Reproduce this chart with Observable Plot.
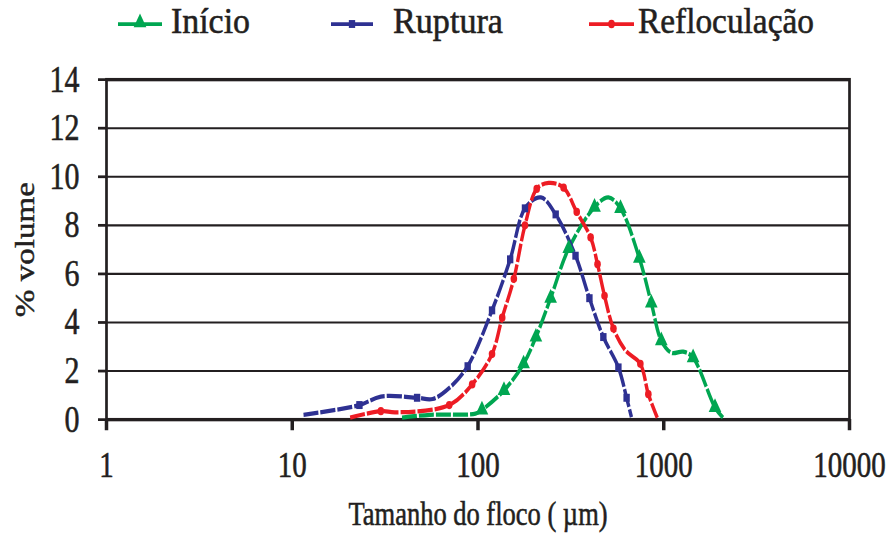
<!DOCTYPE html>
<html>
<head>
<meta charset="utf-8">
<script src="https://cdn.jsdelivr.net/npm/d3@7"></script>
<script src="https://cdn.jsdelivr.net/npm/@observablehq/plot@0.6"></script>
<style>
  html, body { margin: 0; padding: 0; background: #fff; }
  #wrap { width: 891px; height: 536px; position: relative; font-family: "Liberation Serif", "DejaVu Serif", serif; color: #231f20; }
  #wrap svg { display: block; }
  #wrap text { stroke: #231f20; stroke-width: 0.45px; }
</style>
</head>
<body>
<div id="wrap"></div>
<script>
// ---- data ----
const seriesNames = ["Início", "Ruptura", "Refloculação"];
const seriesColors = ["#00a651", "#2e3192", "#ed1c24"];
const seriesSymbols = ["triangle", "square", "circle"];

const inicioSize   = [39, 55, 97, 105, 138, 176, 205, 246, 308, 424, 504, 585, 739, 857, 970, 1100, 1273, 1439, 1888, 2084];
const inicioVol    = [0.08, 0.2, 0.25, 0.4, 1.2, 2.3, 3.4, 5.0, 7.05, 8.75, 9.15, 8.7, 6.65, 4.8, 3.25, 2.75, 2.8, 2.55, 0.5, 0.08];
const inicioMarker = [0, 0, 0, 1, 1, 1, 1, 1, 1, 1, 0, 1, 1, 1, 1, 0, 0, 1, 1, 0];

const rupturaSize   = [11.5, 23, 30, 47, 57, 70, 88, 119, 149, 179, 218, 262, 335, 398, 473, 570, 631, 670];
const rupturaVol    = [0.2, 0.6, 0.95, 0.9, 0.85, 1.3, 2.2, 4.5, 6.6, 8.7, 9.15, 8.45, 6.75, 5.0, 3.4, 2.15, 0.9, 0.1];
const rupturaMarker = [0, 1, 0, 1, 0, 0, 1, 1, 1, 1, 0, 1, 1, 1, 1, 1, 1, 0];

const reflocSize   = [20.5, 30, 36, 70, 93, 119, 135, 156, 179, 207, 240, 289, 340, 404, 440, 480, 536, 622, 748, 826, 923];
const reflocVol    = [0.08, 0.35, 0.3, 0.6, 1.45, 2.7, 4.2, 5.8, 8.0, 9.5, 9.75, 9.55, 8.55, 7.5, 6.4, 5.1, 3.75, 2.85, 2.3, 1.05, 0.08];
const reflocMarker = [0, 1, 0, 1, 1, 1, 1, 1, 1, 1, 0, 1, 1, 1, 1, 1, 1, 0, 1, 1, 0];

const xTicks = [1, 10, 100, 1000, 10000];
const yTicks = [0, 2, 4, 6, 8, 10, 12, 14];
const xLabel = "Tamanho do floco ( µm)";
const yLabel = "% volume";

// ---- tables ----
const table = (sizes, vols, flags, name) =>
  sizes.map((s, i) => ({size: s, vol: vols[i], marker: flags[i] === 1, serie: name}));
const allSeries = [
  table(inicioSize, inicioVol, inicioMarker, seriesNames[0]),
  table(rupturaSize, rupturaVol, rupturaMarker, seriesNames[1]),
  table(reflocSize, reflocVol, reflocMarker, seriesNames[2])
];

const wrap = document.getElementById("wrap");
const ink = "#231f20";
const font = "'Liberation Serif', 'DejaVu Serif', serif";
const stretch = 1.25; // the reference is drawn vertically stretched

// ---- legend (above the plot) ----
const legendH = 46;
const legInnerH = legendH / stretch;
const leg = d3.create("svg")
  .attr("width", 891).attr("height", legendH)
  .attr("viewBox", `0 0 891 ${legInnerH}`).attr("preserveAspectRatio", "none")
  .style("font-family", font).style("overflow", "visible");
const legendItems = [
  {x0: 118, x1: 162, tx: 171, w: 79},
  {x0: 331, x1: 373, tx: 393, w: 110},
  {x0: 589, x1: 634, tx: 638, w: 176}
];
legendItems.forEach((it, i) => {
  const g = leg.append("g");
  const cy = 19.2;
  g.append("line").attr("x1", it.x0).attr("x2", it.x1).attr("y1", cy).attr("y2", cy)
    .attr("stroke", seriesColors[i]).attr("stroke-width", 3);
  const sym = d3.symbol()
    .type({triangle: d3.symbolTriangle, square: d3.symbolSquare, circle: d3.symbolCircle}[seriesSymbols[i]])
    .size({triangle: 70, square: 40, circle: 36}[seriesSymbols[i]]);
  g.append("path").attr("d", sym())
    .attr("transform", `translate(${(it.x0 + it.x1) / 2},${cy - (i === 0 ? 1 : 0)})`)
    .attr("fill", seriesColors[i]);
  g.append("text").attr("x", it.tx).attr("y", 26.4)
    .attr("font-size", 29).attr("fill", ink)
    .attr("textLength", it.w).attr("lengthAdjust", "spacingAndGlyphs")
    .text(seriesNames[i]);
});
wrap.appendChild(leg.node());

// ---- chart ----
const chartH = 536 - legendH;
const innerH = chartH / stretch;
const marks = [
  Plot.ruleY(yTicks, {stroke: ink, strokeWidth: 1.7}),
  Plot.frame({stroke: ink, strokeWidth: 2.7}),
  Plot.axisY({
    ticks: yTicks, tickSize: 8, tickPadding: 19, fontSize: 30, strokeWidth: 2.2,
    label: yLabel, labelAnchor: "center", labelOffset: 91, labelArrow: "none"
  }),
  Plot.axisX({
    ticks: xTicks, tickSize: 9, tickPadding: 16, fontSize: 29, strokeWidth: 3.5,
    tickFormat: d => String(d),
    label: xLabel, labelAnchor: "center", labelOffset: 84, labelArrow: "none"
  })
];
allSeries.forEach((data, i) => {
  marks.push(Plot.line(data, {
    x: "size", y: "vol", stroke: seriesColors[i], strokeWidth: 3.4,
    curve: "catmull-rom", strokeDasharray: "15,2", strokeLinecap: "butt"
  }));
});
allSeries.forEach((data, i) => {
  marks.push(Plot.dot(data, {
    filter: "marker",
    x: "size", y: "vol", fill: seriesColors[i], stroke: "none",
    symbol: seriesSymbols[i], r: [4.7, 3.6, 3.3][i]
  }));
});

const chart = Plot.plot({
  width: 891,
  height: innerH,
  marginTop: 33 / stretch,
  marginBottom: innerH - (419 - legendH) / stretch,
  marginLeft: 106,
  marginRight: 42,
  style: {fontFamily: font, fontSize: "28px", color: ink, background: "#fff", overflow: "visible"},
  x: {type: "log", domain: [1, 10000], axis: null},
  y: {domain: [0, 14], axis: null},
  marks
});
chart.setAttribute("viewBox", `0 0 891 ${innerH}`);
chart.setAttribute("width", 891);
chart.setAttribute("height", chartH);
chart.setAttribute("preserveAspectRatio", "none");
// axis title size (the axis label shares the tick font size otherwise)
d3.select(chart).selectAll("g[aria-label='x-axis label'] text, g[aria-label='y-axis label'] text")
  .attr("font-size", 26.5);
wrap.appendChild(chart);
</script>
</body>
</html>
